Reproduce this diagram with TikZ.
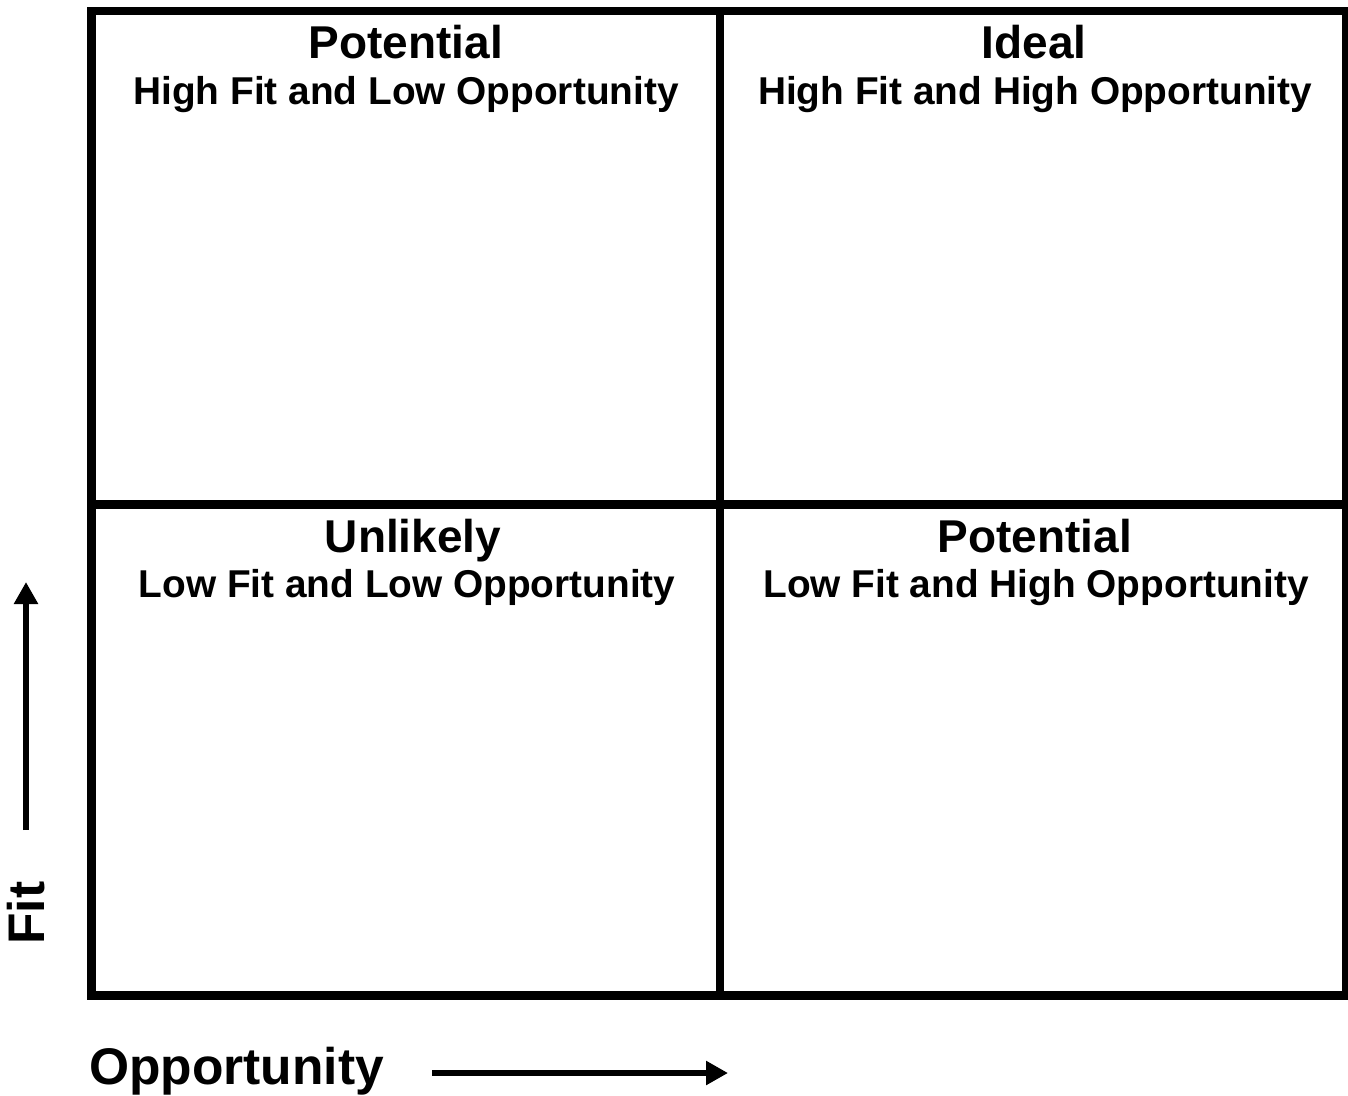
\documentclass[tikz,border=0pt]{standalone}
\usepackage{fontspec}
\setmainfont{Liberation Sans}
\usetikzlibrary{arrows.meta}
\tikzset{
  frame/.style={line width=8.5pt, line join=miter},
  ttl/.style={font=\fontsize{46}{50}\selectfont\bfseries, anchor=base, inner sep=0pt},
  sub/.style={font=\fontsize{38.8}{42}\selectfont\bfseries, anchor=base, inner sep=0pt},
  axislbl/.style={font=\fontsize{51.5}{56}\selectfont\bfseries, inner sep=0pt},
  axisarrow/.style={line width=6pt, -{Triangle[width=23pt,length=22pt]}}
}
\begin{document}
\begin{tikzpicture}[x=1pt,y=-1pt]
\useasboundingbox (0,0) rectangle (1348,1095);
% grid
\draw[frame] (91.5,11) rectangle (1346,995.5);
\draw[frame] (720,11) -- (720,995.5);
\draw[frame] (91.5,504.5) -- (1346,504.5);
% quadrant labels
\node[ttl] (tl) at (406,58) {Potential};
\node[sub] (tlsub) at (406,104) {High Fit and Low Opportunity};
\node[ttl] (tr) at (1034,58) {Ideal};
\node[sub] (trsub) at (1035,104) {High Fit and High Opportunity};
\node[ttl] (bl) at (413,552) {Unlikely};
\node[sub] (blsub) at (407,597) {Low Fit and Low Opportunity};
\node[ttl] (br) at (1035,552) {Potential};
\node[sub] (brsub) at (1036,597) {Low Fit and High Opportunity};
% axes
\node[axislbl, rotate=90] (fit) at (26,913) {Fit};
\coordinate (fitS) at (26,830);
\coordinate (fitE) at (26,582);
\draw[axisarrow] (fitS) -- (fitE);
\node[axislbl, anchor=base west] (opp) at (89,1084) {Opportunity};
\coordinate (oppS) at (432,1073);
\coordinate (oppE) at (728,1073);
\draw[axisarrow] (oppS) -- (oppE);
\end{tikzpicture}
\end{document}
